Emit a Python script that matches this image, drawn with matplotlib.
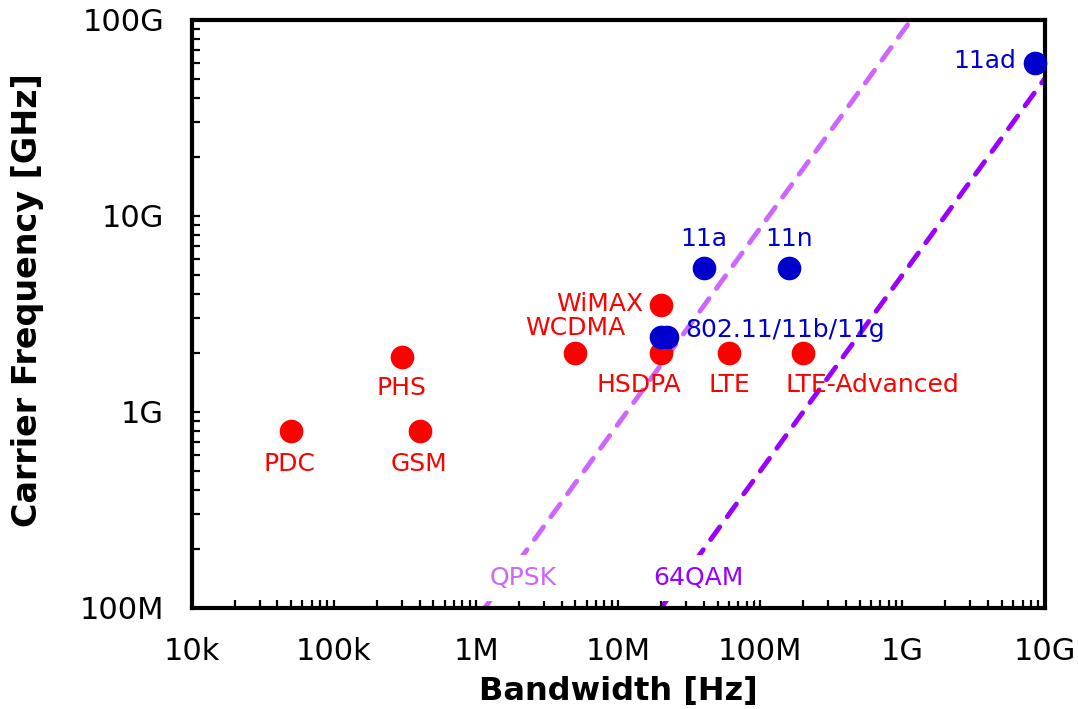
import matplotlib
matplotlib.use("Agg")
import matplotlib.pyplot as plt
from matplotlib.ticker import LogLocator, FixedLocator, NullFormatter

# Mobilfunk-Standards (rot)
cell_names = ["PDC", "PHS", "GSM", "WCDMA", "WiMAX", "HSDPA", "LTE", "LTE-Advanced"]
cell_bw = [5e4, 3e5, 4e5, 5e6, 2e7, 2e7, 6e7, 2e8]
cell_freq = [8e8, 1.9e9, 8e8, 2e9, 3.5e9, 2e9, 2e9, 2e9]

# WLAN-Standards (blau)
wlan_names = ["802.11/11b/11g", "", "11a", "11n", "11ad"]
wlan_bw = [2e7, 2.2e7, 4e7, 1.6e8, 8.6e9]
wlan_freq = [2.4e9, 2.4e9, 5.4e9, 5.4e9, 6e10]

# Modulationsgrenzen
qpsk_bw = [1.15e6, 1.15e9]
qpsk_freq = [1e8, 1e11]
qam_bw = [2e7, 1e10]
qam_freq = [1e8, 5e10]

x_ticks = [1e4, 1e5, 1e6, 1e7, 1e8, 1e9, 1e10]
x_labels = ["10k", "100k", "1M", "10M", "100M", "1G", "10G"]
y_ticks = [1e8, 1e9, 1e10, 1e11]
y_labels = ["100M", "1G", "10G", "100G"]

RED = "#FF0000"
BLUE = "#0000CC"
QPSK_C = "#CC66FF"
QAM_C = "#9900FF"

plt.rcParams["font.family"] = "DejaVu Sans"

fig = plt.figure(figsize=(10.78, 7.09), dpi=100)
ax = fig.add_axes([0.178, 0.1425, 0.791, 0.8295])

ax.plot(qpsk_bw, qpsk_freq, color=QPSK_C, lw=3.5, dashes=(3.2, 2.6),
        dash_capstyle="round", zorder=1)
ax.plot(qam_bw, qam_freq, color=QAM_C, lw=3.5, dashes=(3.2, 2.6),
        dash_capstyle="round", zorder=1)

ax.scatter(cell_bw, cell_freq, s=290, color=RED, zorder=3, linewidths=0)
ax.scatter(wlan_bw, wlan_freq, s=290, color=BLUE, zorder=4, linewidths=0, clip_on=False)

# Beschriftungen: (dx, dy) in Pixeln, Ausrichtung
cell_offsets = [(-2, -33, "center"), (0, -31, "center"), (-1, -33, "center"),
                (0, 25, "center"), (-18, 1, "right"), (-22, -32, "center"),
                (1, -32, "center"), (-18, -32, "left")]
for name, bw, fr, (dx, dy, ha) in zip(cell_names, cell_bw, cell_freq, cell_offsets):
    ax.annotate(name, (bw, fr), xytext=(dx, dy), textcoords="offset pixels",
                ha=ha, va="center", color=RED, fontsize=18, zorder=5)

wlan_offsets = [(24, 7, "left"), (0, 0, "left"), (0, 29, "center"),
                (0, 29, "center"), (-19, 2, "right")]
for name, bw, fr, (dx, dy, ha) in zip(wlan_names, wlan_bw, wlan_freq, wlan_offsets):
    if name:
        ax.annotate(name, (bw, fr), xytext=(dx, dy), textcoords="offset pixels",
                    ha=ha, va="center", color=BLUE, fontsize=18, zorder=5)

# Labels der Linien (Pixelposition, y von unten), weisser Kasten verdeckt die Linie
box = dict(facecolor="white", edgecolor="none", boxstyle="square,pad=0.45")
ax.text(523, 709 - 578, "QPSK", transform=None, ha="center", va="center",
        color=QPSK_C, fontsize=18, bbox=box, zorder=2)
ax.text(698, 709 - 578, "64QAM", transform=None, ha="center", va="center",
        color=QAM_C, fontsize=18, bbox=box, zorder=2)

ax.set_xscale("log")
ax.set_yscale("log")
ax.set_xlim(1e4, 1e10)
ax.set_ylim(1e8, 1e11)

ax.xaxis.set_major_locator(FixedLocator(x_ticks))
ax.set_xticklabels(x_labels)
ax.yaxis.set_major_locator(FixedLocator(y_ticks))
ax.set_yticklabels(y_labels)
ax.xaxis.set_minor_locator(LogLocator(base=10, subs=range(2, 10), numticks=20))
ax.yaxis.set_minor_locator(LogLocator(base=10, subs=range(2, 10), numticks=20))
ax.xaxis.set_minor_formatter(NullFormatter())
ax.yaxis.set_minor_formatter(NullFormatter())

ax.tick_params(which="both", direction="in", length=6, width=1.6, top=False, right=False,
               labelsize=22, color="black")
ax.tick_params(axis="x", which="major", pad=21)
ax.tick_params(axis="y", which="major", pad=20)

for sp in ax.spines.values():
    sp.set_linewidth(3)
    sp.set_zorder(2.5)

ax.set_xlabel("Bandwidth [Hz]", fontsize=23, fontweight="bold", labelpad=7)
ax.set_ylabel("Carrier Frequency [GHz]", fontsize=24, fontweight="bold")
ax.yaxis.set_label_coords(-0.174, 0.524)

fig.savefig("out.png", dpi=100)
